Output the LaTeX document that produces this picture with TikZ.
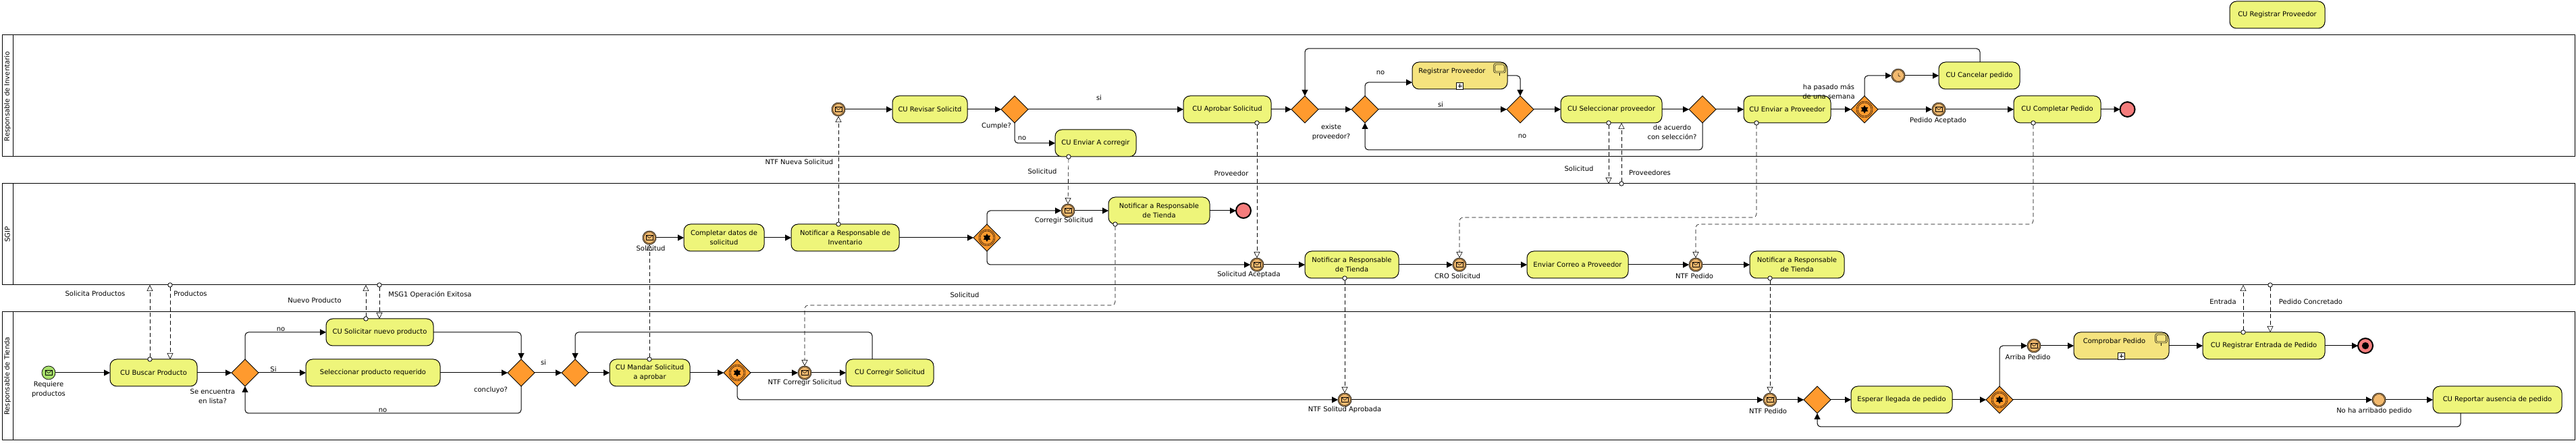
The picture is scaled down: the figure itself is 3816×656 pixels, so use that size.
\documentclass[tikz,border=0pt]{standalone}
\usepackage{fontspec}
\setmainfont{DejaVu Sans}
\usetikzlibrary{arrows.meta,shapes.geometric}

\definecolor{taskfill}{HTML}{EEF57A}
\definecolor{subfill}{HTML}{F5E37E}
\definecolor{gatefill}{HTML}{FF9A2E}
\definecolor{eventfill}{HTML}{F2B96E}
\definecolor{endfill}{HTML}{F47C7C}
\definecolor{startfill}{HTML}{A8E06C}

\begin{document}
\begin{tikzpicture}[x=0.5pt,y=-0.5pt,line width=0.5pt]

    \def\laneleft{3}
    \def\lanehead{19}
    \def\laneright{3814}

    % Styles
    \tikzstyle{txt}=[font=\fontsize{5}{7}\selectfont,align=center]
    \tikzstyle{lbl}=[txt,inner sep=0pt]
    \tikzstyle{task}=[txt,draw,fill=taskfill,rounded corners=5pt,minimum height=20pt,inner sep=0pt,outer sep=0pt]
    \tikzstyle{sub}=[task,fill=subfill]
    \tikzstyle{gate}=[draw,fill=gatefill,diamond,aspect=1,minimum width=20pt,minimum height=20pt,inner sep=0pt,outer sep=0pt,line width=0.4pt]
    \tikzstyle{event}=[draw,fill=eventfill,circle,minimum size=10pt,inner sep=0pt,outer sep=0pt,line width=0.35pt]
    \tikzstyle{start}=[event,fill=startfill]
    \tikzstyle{finish}=[event,fill=endfill,line width=1pt,minimum size=11pt]
    \tikzstyle{port}=[draw,fill=white,circle,minimum size=3.2pt,inner sep=0pt,outer sep=0pt,line width=0.4pt]
    \tikzstyle{flow}=[-{Triangle[length=4.5pt,width=4.5pt]},rounded corners=2.5pt]
    \tikzstyle{msg}=[-{Triangle[open,fill=white,length=4.5pt,width=4.5pt,line width=0.3pt]},line width=0.3pt,dash pattern=on 3pt off 2pt,rounded corners=2.5pt]
    \tikzstyle{glyph}=[line width=0.25pt]

    \useasboundingbox (0,0) rectangle (3816,656);

    % lanes
    \draw (\laneleft,52) rectangle (\laneright,232);
    \draw (\lanehead,52) -- (\lanehead,232);
    \node[lbl,rotate=90] (laneinv) at (11,143) {Responsable de Inventario};
    \draw (\laneleft,272) rectangle (\laneright,422);
    \draw (\lanehead,272) -- (\lanehead,422);
    \node[lbl,rotate=90] (lanesgip) at (11,347) {SGIP};
    \draw (\laneleft,462) rectangle (\laneright,652);
    \draw (\lanehead,462) -- (\lanehead,652);
    \node[lbl,rotate=90] (lanetienda) at (11,557) {Responsable de Tienda};

    % inventory lane
    \node[task,minimum width=70.5pt] (cuprov) at (3373.5,22) {CU Registrar Proveedor};
    \node[event] (enueva) at (1242,162) {};
    \node[task,minimum width=55.5pt] (revisar) at (1377.5,162) {CU Revisar Solicitd};
    \node[gate] (gcumple) at (1503,162) {};
    \node[task,minimum width=60pt] (enviarcorr) at (1623,212) {CU Enviar A corregir};
    \node[task,minimum width=65pt] (aprobar) at (1818,162) {CU Aprobar Solicitud};
    \node[gate] (gmerge) at (1933,162) {};
    \node[gate] (gexiste) at (2022,162) {};
    \node[sub,minimum width=70.5pt] (regprov) at (2162.5,112) {};
    \node[lbl] (regprovtxt) at (2151,106) {Registrar Proveedor};
    \node[gate] (gprov) at (2252,162) {};
    \node[task,minimum width=75pt] (selprov) at (2387,162) {CU Seleccionar proveedor};
    \node[gate] (gacuerdo) at (2522,162) {};
    \node[task,minimum width=64.5pt] (enviarprov) at (2647.5,162) {CU Enviar a Proveedor};
    \node[gate] (gsemana) at (2762,162) {};
    \node[event] (etimer) at (2812,112) {};
    \node[task,minimum width=60pt] (cancelar) at (2932,112) {CU Cancelar pedido};
    \node[event] (eaceptado) at (2872,162) {};
    \node[task,minimum width=64.5pt] (completar) at (3047.5,162) {CU Completar Pedido};
    \node[finish] (endinv) at (3151.5,162) {};

    % system lane
    \node[event] (esolicitud) at (962,352) {};
    \node[task,minimum width=59.5pt] (datos) at (1072.5,352) {Completar datos de\\solicitud};
    \node[task,minimum width=80pt] (notinv) at (1252,352) {Notificar a Responsable de\\Inventario};
    \node[gate] (gsgip) at (1462,352) {};
    \node[event] (ecorregir) at (1582,312) {};
    \node[task,minimum width=75pt] (nottiendaa) at (1717,312) {Notificar a Responsable\\de Tienda};
    \node[finish] (endsgip) at (1842,312) {};
    \node[event] (eaceptada) at (1862,392) {};
    \node[task,minimum width=69.5pt] (nottiendab) at (2002.5,392) {Notificar a Responsable\\de Tienda};
    \node[event] (ecro) at (2162,392) {};
    \node[task,minimum width=75pt] (correo) at (2337,392) {Enviar Correo a Proveedor};
    \node[event] (entf) at (2512,392) {};
    \node[task,minimum width=70pt] (nottiendac) at (2662,392) {Notificar a Responsable\\de Tienda};

    % store lane
    \node[start] (estart) at (72,552) {};
    \node[task,minimum width=64.5pt] (buscar) at (227.5,552) {CU Buscar Producto};
    \node[gate] (glista) at (363,552) {};
    \node[task,minimum width=79.5pt] (solicitar) at (562.5,492) {CU Solicitar nuevo producto};
    \node[task,minimum width=99.5pt] (selprod) at (552.5,552) {Seleccionar producto requerido};
    \node[gate] (gconcluyo) at (772,552) {};
    \node[gate] (gvuelta) at (852,552) {};
    \node[task,minimum width=59.5pt] (mandar) at (962.5,552) {CU Mandar Solicitud\\a aprobar};
    \node[gate] (gtienda) at (1092,552) {};
    \node[event] (entfcorr) at (1192,552) {};
    \node[task,minimum width=65pt] (corregir) at (1318,552) {CU Corregir Solicitud};
    \node[event] (eaprobada) at (1992,592) {};
    \node[event] (epedido) at (2622,592) {};
    \node[gate] (gesperar) at (2692,592) {};
    \node[task,minimum width=75pt] (esperar) at (2817,592) {Esperar llegada de pedido};
    \node[gate] (garribo) at (2962,592) {};
    \node[event] (earriba) at (3013,512) {};
    \node[sub,minimum width=70.5pt] (comprobar) at (3142.5,512) {};
    \node[lbl] (comprobartxt) at (3132,506) {Comprobar Pedido};
    \node[task,minimum width=90.5pt] (regentrada) at (3353.5,512) {CU Registrar Entrada de Pedido};
    \node[finish] (endtienda) at (3504,512) {};
    \node[event] (eausente) at (3524,592) {};
    \node[task,minimum width=95.5pt] (reportar) at (3699.5,592) {CU Reportar ausencia de pedido};

    % bends and free ends
    \coordinate (regprovin) at (2092,122);
    \coordinate (cancelarout) at (2933,92);
    \coordinate (topturn) at (1933,72);
    \coordinate (corregirout) at (1292,532);
    \coordinate (corregirturn) at (852,492);
    \coordinate (reportarout) at (3645,612);
    \coordinate (reportarturn) at (2692,632);
    \coordinate (concluyoturn) at (363,612);
    \coordinate (acuerdoturn) at (2022,222);
    \coordinate (corrturn) at (1192,452);
    \coordinate (croturn) at (2162,322);
    \coordinate (ntfturn) at (2512,332);

    % sequence flows, inventory
    \draw[flow] (enueva) -- (revisar);
    \draw[flow] (revisar) -- (gcumple);
    \draw[flow] (gcumple) -- (aprobar);
    \draw[flow] (gcumple.south) |- (enviarcorr.west);
    \draw[flow] (aprobar) -- (gmerge);
    \draw[flow] (gmerge) -- (gexiste);
    \draw[flow] (gexiste.north) |- (regprovin);
    \draw[flow] (regprov.east) -| (gprov.north);
    \draw[flow] (gexiste) -- (gprov);
    \draw[flow] (gprov) -- (selprov);
    \draw[flow] (selprov) -- (gacuerdo);
    \draw[flow] (gacuerdo.south) |- (acuerdoturn) -- (gexiste.south);
    \draw[flow] (gacuerdo) -- (enviarprov);
    \draw[flow] (enviarprov) -- (gsemana);
    \draw[flow] (gsemana.north) |- (etimer.west);
    \draw[flow] (etimer) -- (cancelar);
    \draw[flow] (cancelarout) |- (topturn) -- (gmerge.north);
    \draw[flow] (gsemana) -- (eaceptado);
    \draw[flow] (eaceptado) -- (completar);
    \draw[flow] (completar) -- (endinv);

    % sequence flows, system
    \draw[flow] (esolicitud) -- (datos);
    \draw[flow] (datos) -- (notinv);
    \draw[flow] (notinv) -- (gsgip);
    \draw[flow] (gsgip.north) |- (ecorregir.west);
    \draw[flow] (ecorregir) -- (nottiendaa);
    \draw[flow] (nottiendaa) -- (endsgip);
    \draw[flow] (gsgip.south) |- (eaceptada.west);
    \draw[flow] (eaceptada) -- (nottiendab);
    \draw[flow] (nottiendab) -- (ecro);
    \draw[flow] (ecro) -- (correo);
    \draw[flow] (correo) -- (entf);
    \draw[flow] (entf) -- (nottiendac);

    % sequence flows, store
    \draw[flow] (estart) -- (buscar);
    \draw[flow] (buscar) -- (glista);
    \draw[flow] (glista.north) |- (solicitar.west);
    \draw[flow] (glista) -- (selprod);
    \draw[flow] (selprod) -- (gconcluyo);
    \draw[flow] (solicitar.east) -| (gconcluyo.north);
    \draw[flow] (gconcluyo.south) |- (concluyoturn) -- (glista.south);
    \draw[flow] (gconcluyo) -- (gvuelta);
    \draw[flow] (gvuelta) -- (mandar);
    \draw[flow] (mandar) -- (gtienda);
    \draw[flow] (gtienda) -- (entfcorr);
    \draw[flow] (entfcorr) -- (corregir);
    \draw[flow] (corregirout) |- (corregirturn) -- (gvuelta.north);
    \draw[flow] (gtienda.south) |- (eaprobada.west);
    \draw[flow] (eaprobada) -- (epedido);
    \draw[flow] (epedido) -- (gesperar);
    \draw[flow] (gesperar) -- (esperar);
    \draw[flow] (esperar) -- (garribo);
    \draw[flow] (garribo.north) |- (earriba.west);
    \draw[flow] (earriba) -- (comprobar);
    \draw[flow] (comprobar) -- (regentrada);
    \draw[flow] (regentrada) -- (endtienda);
    \draw[flow] (garribo) -- (eausente);
    \draw[flow] (eausente) -- (reportar);
    \draw[flow] (reportarout) |- (reportarturn) -- (gesperar.south);

    % message flow ports
    \node[port] (pbuscar) at (222,532) {};
    \coordinate (tobuscarup) at (222,422);
    \node[port] (pproductos) at (252,422) {};
    \coordinate (inbuscar) at (252,532);
    \node[port] (psolicitar) at (542,472) {};
    \coordinate (tosolicitarup) at (542,422);
    \node[port] (pmsg) at (562,422) {};
    \coordinate (insolicitar) at (562,472);
    \node[port] (pmandar) at (962,532) {};
    \node[port] (pnotinv) at (1242,332) {};
    \node[port] (penviarcorr) at (1583,232) {};
    \node[port] (pnottiendaa) at (1652,332) {};
    \node[port] (paprobar) at (1862,182) {};
    \node[port] (pnottiendab) at (1992,412) {};
    \node[port] (pselprov) at (2383,182) {};
    \coordinate (tosgip) at (2383,272);
    \node[port] (pprovs) at (2402,272) {};
    \coordinate (inselprov) at (2402,182);
    \node[port] (penviarprov) at (2602,182) {};
    \node[port] (pnottiendac) at (2622,412) {};
    \node[port] (pcompletar) at (3012,182) {};
    \node[port] (pentrada) at (3323,492) {};
    \coordinate (toentrada) at (3323,422);
    \node[port] (pconcretado) at (3363,422) {};
    \coordinate (inentrada) at (3363,492);

    % message flows
    \draw[msg] (pbuscar) -- (tobuscarup);
    \draw[msg] (pproductos) -- (inbuscar);
    \draw[msg] (psolicitar) -- (tosolicitarup);
    \draw[msg] (pmsg) -- (insolicitar);
    \draw[msg] (pmandar) -- (esolicitud.south);
    \draw[msg] (pnotinv) -- (enueva.south);
    \draw[msg] (penviarcorr) -- (ecorregir.north);
    \draw[msg] (pnottiendaa) |- (corrturn) -- (entfcorr.north);
    \draw[msg] (paprobar) -- (eaceptada.north);
    \draw[msg] (pnottiendab) -- (eaprobada.north);
    \draw[msg] (pselprov) -- (tosgip);
    \draw[msg] (pprovs) -- (inselprov);
    \draw[msg] (penviarprov) |- (croturn) -- (ecro.north);
    \draw[msg] (pcompletar) |- (ntfturn) -- (entf.north);
    \draw[msg] (pnottiendac) -- (epedido.north);
    \draw[msg] (pentrada) -- (toentrada);
    \draw[msg] (pconcretado) -- (inentrada);

    % event rings
    \foreach \e in {enueva,etimer,eaceptado,esolicitud,ecorregir,eaceptada,ecro,entf,entfcorr,eaprobada,epedido,earriba,eausente}
        \draw[glyph] (\e) circle [radius=4.2pt];

    % envelopes
    \foreach \e in {estart,enueva,eaceptado,esolicitud,ecorregir,eaceptada,ecro,entf,entfcorr,eaprobada,epedido,earriba} {
        \begin{scope}[shift={(\e)}]
        \draw[glyph] (-5,-3.5) rectangle (5,3.5);
        \draw[glyph] (-5,-3.5) -- (0,0.5) -- (5,-3.5);
        \end{scope}
    }

    % clock
    \begin{scope}[shift={(etimer)}]
    \draw[glyph] (0,-3.5) -- (0,0) -- (3,1.5);
    \end{scope}

    % end event dot
    \fill (endtienda) circle [radius=2.6pt];

    % event gateways
    \foreach \g in {gsemana,gsgip,gtienda,garribo} {
        \begin{scope}[shift={(\g)}]
        \draw[glyph] (0,0) circle [radius=6pt];
        \draw[glyph] (0,0) circle [radius=5pt];
        \fill (0,-6) -- (5.2,3) -- (-5.2,3) -- cycle;
        \fill (0,6) -- (5.2,-3) -- (-5.2,-3) -- cycle;
        \end{scope}
    }

    % subprocess marks
    \foreach \s in {regprov,comprobar} {
        \begin{scope}[shift={(\s)}]
        \draw[glyph,fill=white] (-5,10) rectangle (5,20);
        \draw[glyph] (-3,15) -- (3,15);
        \draw[glyph] (0,12) -- (0,18);
        \draw[glyph,rounded corners=1.5pt] (50,-18) rectangle (68,-4);
        \draw[glyph,rounded corners=1pt] (52,-16) rectangle (66,-6);
        \draw[line width=0.8pt] (59,-4) -- (59,0);
        \end{scope}
    }

    % texts, inventory
    \node[lbl] (tnueva) at (1184,240) {NTF Nueva Solicitud};
    \node[lbl] (tcumple) at (1476,187) {Cumple?};
    \node[lbl] (tsi) at (1628,145) {si};
    \node[lbl] (tno) at (1514,205) {no};
    \node[lbl] (tsolicituda) at (1544,254) {Solicitud};
    \node[lbl] (tproveedor) at (1824,257) {Proveedor};
    \node[lbl] (texiste) at (1972,196) {existe\\proveedor?};
    \node[lbl] (tnob) at (2045,108) {no};
    \node[lbl] (tsib) at (2134,155) {si};
    \node[lbl] (tnoc) at (2255,202) {no};
    \node[lbl] (tacuerdo) at (2477,196) {de acuerdo\\con selección?};
    \node[lbl] (tsolicitudb) at (2339,250) {Solicitud};
    \node[lbl] (tproveedores) at (2444,256) {Proveedores};
    \node[lbl] (tsemana) at (2709,136) {ha pasado más\\de una semana};
    \node[lbl] (taceptado) at (2871,179) {Pedido Aceptado};

    % texts, system
    \node[lbl] (tesolicitud) at (964,368) {Solicitud};
    \node[lbl] (tcorregir) at (1576,327) {Corregir Solicitud};
    \node[lbl] (taceptada) at (1850,407) {Solicitud Aceptada};
    \node[lbl] (tcro) at (2159,409) {CRO Solicitud};
    \node[lbl] (tntf) at (2510,409) {NTF Pedido};

    % texts, store
    \node[lbl] (trequiere) at (72,577) {Requiere\\productos};
    \node[lbl] (tsolicita) at (141,435) {Solicita Productos};
    \node[lbl] (tproductos) at (282,435) {Productos};
    \node[lbl] (tlista) at (315,587) {Se encuentra\\en lista?};
    \node[lbl] (tnod) at (416,488) {no};
    \node[lbl] (tsic) at (405,547) {Si};
    \node[lbl] (tnuevo) at (466,445) {Nuevo Producto};
    \node[lbl] (tmsg) at (637,437) {MSG1 Operación Exitosa};
    \node[lbl] (tconcluyo) at (727,578) {concluyo?};
    \node[lbl] (tnoe) at (567,608) {no};
    \node[lbl] (tsid) at (805,537) {si};
    \node[lbl] (tntfcorr) at (1192,567) {NTF Corregir Solicitud};
    \node[lbl] (tsolicitudc) at (1429,437) {Solicitud};
    \node[lbl] (taprobada) at (1992,607) {NTF Solitud Aprobada};
    \node[lbl] (tpedido) at (2619,609) {NTF Pedido};
    \node[lbl] (tarriba) at (3004,529) {Arriba Pedido};
    \node[lbl] (tentrada) at (3293,447) {Entrada};
    \node[lbl] (tconcretado) at (3423,447) {Pedido Concretado};
    \node[lbl] (tausente) at (3517,609) {No ha arribado pedido};

\end{tikzpicture}
\end{document}
